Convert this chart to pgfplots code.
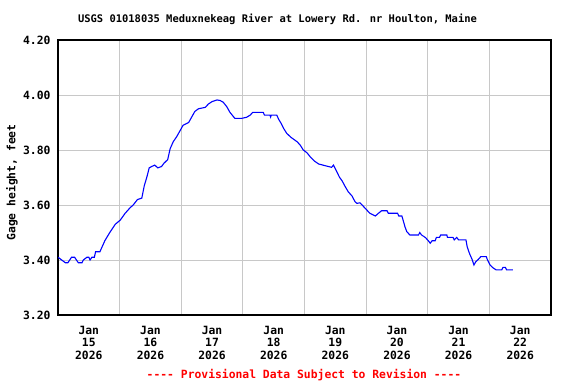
\documentclass[border=0pt]{standalone}
\usepackage{pgfplots}
\pgfplotsset{compat=1.18}
\usepackage{fontspec}
\newfontfamily\gfont{DejaVu Sans Mono}
\definecolor{gridgray}{RGB}{200,200,200}
\definecolor{provred}{RGB}{255,0,0}
\begin{document}
\begin{tikzpicture}
\path[use as bounding box] (0,0) rectangle (576bp,384bp);
\begin{axis}[
  at={(58bp,69bp)}, anchor=south west,
  scale only axis, width=493bp, height=275bp,
  xmin=0, xmax=8, ymin=3.2, ymax=4.2,
  axis line style={black, line width=1.5bp},
  xtick={0.5,1.5,2.5,3.5,4.5,5.5,6.5,7.5},
  xticklabels={{Jan\\15\\2026},{Jan\\16\\2026},{Jan\\17\\2026},{Jan\\18\\2026},{Jan\\19\\2026},{Jan\\20\\2026},{Jan\\21\\2026},{Jan\\22\\2026}},
  minor xtick={1,2,3,4,5,6,7},
  xminorgrids=true, xmajorgrids=false,
  ytick={3.2,3.4,3.6,3.8,4.0,4.2},
  yticklabels={3.20,3.40,3.60,3.80,4.00,4.20},
  ymajorgrids=true,
  major tick length=0pt, minor tick length=0pt,
  grid style={gridgray, line width=0.9bp},
  minor grid style={gridgray, line width=0.9bp},
  xticklabel style={align=center, font=\gfont\bfseries\fontsize{11.4}{12.7}\selectfont, yshift=-7.5bp},
  yticklabel style={font=\gfont\bfseries\fontsize{11.4}{12.7}\selectfont, xshift=-4bp},
]
\addplot[blue, line width=1.1bp, sharp plot] coordinates {
(0.00,3.41)(0.06,3.40)(0.12,3.39)(0.16,3.39)(0.19,3.40)(0.22,3.41)(0.27,3.41)
(0.30,3.40)(0.33,3.39)(0.39,3.39)(0.41,3.40)(0.47,3.41)(0.50,3.41)(0.52,3.40)
(0.55,3.41)(0.59,3.41)(0.61,3.43)(0.68,3.43)(0.70,3.44)(0.76,3.47)(0.84,3.50)
(0.93,3.53)(1.01,3.545)(1.09,3.57)(1.17,3.59)(1.22,3.60)(1.29,3.62)(1.36,3.625)
(1.40,3.67)(1.44,3.70)(1.48,3.735)(1.52,3.74)(1.57,3.745)(1.62,3.735)(1.68,3.74)
(1.72,3.752)(1.78,3.765)(1.82,3.805)(1.87,3.83)(1.93,3.85)(1.98,3.87)(2.03,3.89)
(2.12,3.90)(2.17,3.92)(2.22,3.94)(2.28,3.95)(2.39,3.955)(2.44,3.967)(2.50,3.976)
(2.58,3.982)(2.63,3.98)(2.68,3.974)(2.74,3.957)(2.79,3.937)(2.87,3.915)(2.98,3.915)
(3.06,3.919)(3.12,3.927)(3.16,3.937)(3.33,3.937)(3.35,3.927)(3.44,3.927)(3.45,3.92)
(3.46,3.927)(3.55,3.927)(3.58,3.912)(3.62,3.897)(3.66,3.879)(3.71,3.861)(3.78,3.846)
(3.88,3.83)(3.93,3.818)(3.98,3.80)(4.04,3.79)(4.09,3.776)(4.16,3.76)(4.23,3.749)
(4.44,3.737)(4.47,3.745)(4.51,3.727)(4.57,3.70)(4.61,3.688)(4.66,3.667)(4.71,3.648)
(4.77,3.633)(4.82,3.612)(4.85,3.606)(4.90,3.608)(4.96,3.594)(5.01,3.582)(5.06,3.57)
(5.15,3.56)(5.20,3.57)(5.25,3.579)(5.34,3.579)(5.36,3.57)(5.51,3.57)(5.53,3.56)
(5.58,3.56)(5.60,3.545)(5.63,3.521)(5.66,3.503)(5.71,3.491)(5.85,3.491)(5.87,3.50)
(5.90,3.491)(5.96,3.482)(6.01,3.47)(6.04,3.461)(6.07,3.47)(6.12,3.47)(6.14,3.482)
(6.19,3.482)(6.21,3.491)(6.31,3.491)(6.32,3.482)(6.41,3.482)(6.43,3.473)(6.47,3.482)
(6.50,3.473)(6.62,3.473)(6.64,3.448)(6.68,3.422)(6.72,3.402)(6.75,3.382)(6.78,3.394)
(6.82,3.402)(6.86,3.412)(6.95,3.412)(6.97,3.40)(7.01,3.382)(7.05,3.373)(7.11,3.364)
(7.20,3.364)(7.22,3.373)(7.26,3.373)(7.28,3.364)(7.38,3.364)
};
\end{axis}
\node[font=\gfont\bfseries\fontsize{10.5}{12}\selectfont] at (277.5bp,365bp) {USGS 01018035 Meduxnekeag River at Lowery Rd. nr Houlton, Maine};
\node[font=\gfont\bfseries\fontsize{11.4}{12.7}\selectfont, rotate=90] at (12bp,201.5bp) {Gage height, feet};
\node[font=\gfont\bfseries\fontsize{11.4}{12.7}\selectfont, text=provred] at (304bp,9bp) {---- Provisional Data Subject to Revision ----};
\end{tikzpicture}
\end{document}
